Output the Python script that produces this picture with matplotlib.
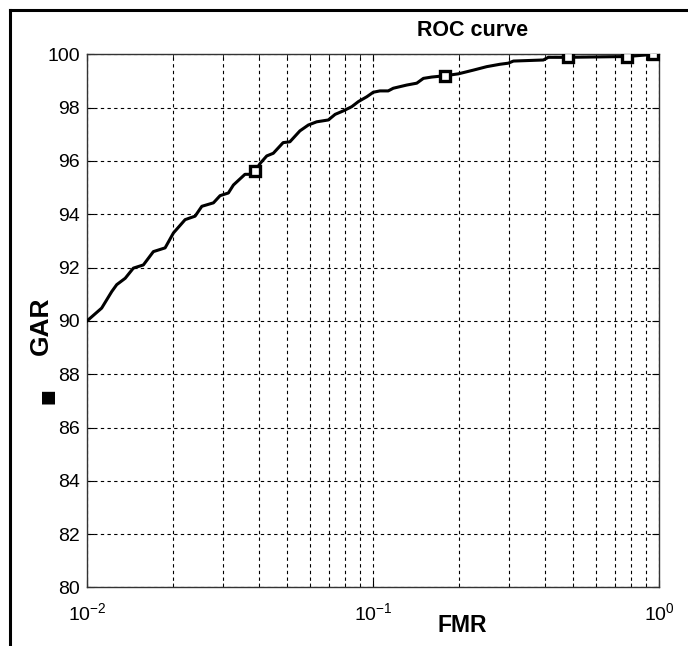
#!/usr/bin/env python3
"""ROC curve (GAR vs FMR, log x) in the old MATLAB look. Writes out.png."""
import numpy as np
import matplotlib
matplotlib.use("Agg")
import matplotlib.pyplot as plt
from matplotlib.lines import Line2D
from matplotlib import font_manager as fm

names = {f.name for f in fm.fontManager.ttflist}
NARROW = "Liberation Sans Narrow" if "Liberation Sans Narrow" in names else "Liberation Sans"
plt.rcParams.update({"font.family": [NARROW, "DejaVu Sans"], "mathtext.fontset": "custom",
                     "mathtext.rm": NARROW, "mathtext.it": NARROW, "mathtext.bf": NARROW})

# curve
fmr = [0.0100, 0.0101, 0.01125, 0.0122, 0.0127, 0.0136, 0.01452, 0.01574, 0.01706, 0.01875,
       0.02005, 0.02203, 0.02387, 0.0252, 0.02767, 0.02919, 0.0312, 0.0325, 0.03566, 0.03764,
       0.0387, 0.0403, 0.0425, 0.0448, 0.0485, 0.0512, 0.0555, 0.0594, 0.0635, 0.0698,
       0.0737, 0.0787, 0.0843, 0.0889, 0.0951, 0.1002, 0.1057, 0.113, 0.1177, 0.1312,
       0.1422, 0.150, 0.1604, 0.1786, 0.1987, 0.2243, 0.2498, 0.278, 0.297, 0.3097,
       0.394, 0.410, 0.482, 0.770, 0.955]
gar = [90.00, 90.04, 90.48, 91.10, 91.36, 91.60, 91.98, 92.10, 92.60, 92.74,
       93.30, 93.80, 93.93, 94.30, 94.43, 94.70, 94.80, 95.10, 95.50, 95.50,
       95.62, 95.91, 96.19, 96.29, 96.69, 96.72, 97.13, 97.35, 97.47, 97.54,
       97.75, 97.88, 98.04, 98.23, 98.41, 98.58, 98.63, 98.63, 98.73, 98.85,
       98.92, 99.10, 99.15, 99.20, 99.27, 99.41, 99.54, 99.63, 99.67, 99.75,
       99.79, 99.89, 99.89, 99.92, 100.0]
mark_fmr = [0.0387, 0.1786, 0.482, 0.770, 0.955]
mark_gar = [95.62, 99.20, 99.89, 99.92, 100.0]
yticks = list(range(80, 101, 2))

fig = plt.figure(figsize=(6.88, 6.46), dpi=100)
ax = fig.add_axes([0.1265, 0.0907, 0.8314, 0.8251])
ax.plot(fmr, gar, color="black", lw=2.2, zorder=3)
ax.plot(mark_fmr, mark_gar, ls="none", marker="s", ms=7.5, mfc="white", mec="black", mew=2.4, zorder=4)
ax.set_xscale("log")
ax.set_xlim(0.01, 1); ax.set_ylim(80, 100)
ax.set_yticks(yticks)
ax.grid(True, which="both", axis="x", color="black", ls=(0, (3, 3)), lw=0.8)
ax.grid(True, which="major", axis="y", color="black", ls=(0, (3, 3)), lw=0.8)
ax.tick_params(which="both", direction="in", top=True, right=True, labelsize=14)
ax.tick_params(axis="y", pad=5); ax.tick_params(axis="x", pad=11)
ax.tick_params(which="major", length=5); ax.tick_params(which="minor", length=3)
for s in ax.spines.values():
    s.set_color("#333333"); s.set_linewidth(1.0)

fig.text(473 / 688, 1 - 30 / 646, "ROC curve", ha="center", va="center", fontsize=15.5, fontweight="bold",
         family="Liberation Sans")
fig.text(462 / 688, 1 - 626 / 646, "FMR", ha="center", va="center", fontsize=16.5, fontweight="bold",
         family="Liberation Sans")
fig.text(41 / 688, 1 - 326 / 646, "GAR", ha="center", va="center", rotation=90, fontsize=19,
         fontweight="bold", family="Liberation Sans")
fig.text(47 / 688, 1 - 396 / 646, "\u25a0", ha="center", va="center", rotation=90, fontsize=12,
         family="DejaVu Sans")

# outer frame (top and left edges only are in view)
fig.add_artist(Line2D([10 / 688, 10 / 688], [0, 1 - 10 / 646], color="black", lw=2.2))
fig.add_artist(Line2D([10 / 688, 1], [1 - 10 / 646, 1 - 10 / 646], color="black", lw=2.2))

fig.savefig("out.png", dpi=100)
